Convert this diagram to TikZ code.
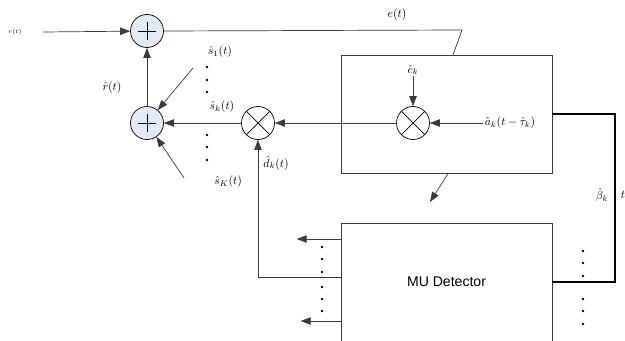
\documentclass[tikz,border=0pt]{standalone}
\usepackage{fontspec}
\setmainfont{Liberation Serif}
\setsansfont{Liberation Sans}
\usepackage{xcolor}
\definecolor{sumfill}{RGB}{226,234,245}
\definecolor{ln}{HTML}{3A3A3A}
\usetikzlibrary{positioning, arrows.meta}

\begin{document}
\begin{tikzpicture}[x=0.03cm, y=-0.03cm, every node/.style={font=\normalsize},
   blk/.style={draw=ln, line width=0.6pt, minimum width=6.33cm, minimum height=3.54cm, inner sep=0pt},
   sum/.style={circle, draw=black, fill=sumfill, line width=0.6pt, minimum size=0.99cm, inner sep=0pt,
     path picture={\draw[line width=0.6pt] ([xshift=-0.26cm]path picture bounding box.center) -- ([xshift=0.26cm]path picture bounding box.center)
       ([yshift=-0.26cm]path picture bounding box.center) -- ([yshift=0.26cm]path picture bounding box.center);}},
   mul/.style={circle, draw=black, fill=white, line width=0.6pt, minimum size=0.99cm, inner sep=0pt,
     path picture={\draw[line width=0.6pt] (path picture bounding box.north west) -- (path picture bounding box.south east)
       (path picture bounding box.north east) -- (path picture bounding box.south west);}},
   lbl/.style={inner sep=1pt},
   arr/.style={-{Triangle[length=3mm, width=2.2mm]}, draw=ln, line width=0.6pt},
   wire/.style={draw=ln, line width=0.6pt},
   bus/.style={draw=black, line width=2.4pt}]
  \useasboundingbox (0,0) rectangle (625,340);
  \clip (0,0) rectangle (625,340);
  % blocks
  \node[sum] (top) at (147,31) {};
  \node[sum] (add) at (147,123) {};
  \node[mul] (mulA) at (258,123) {};
  \node[blk] (up) at (446.5,114) {};
  \node[mul] (mulC) at (413,123) {};
  \node[blk] (mu) at (446.5,282) {\large\sffamily MU Detector};
  % labels
  \node[lbl, font=\tiny] (rt) at (15,32) {$r(t)$};
  \node[lbl] (et) at (397,15) {$e(t)$};
  \node[lbl] (rh) at (112,88) {$\hat{r}(t)$};
  \node[lbl] (s1) at (220,52) {$\hat{s}_1(t)$};
  \node[lbl] (sk) at (222,107) {$\hat{s}_k(t)$};
  \node[lbl] (sK) at (228,182) {$\hat{s}_K(t)$};
  \node[lbl] (dk) at (276,163) {$\hat{d}_k(t)$};
  \node[lbl] (ck) at (413,70) {$\hat{c}_k$};
  \node[lbl] (ak) at (510,123) {$\hat{a}_k(t-\hat{\tau}_k)$};
  \node[lbl] (bt) at (602,195) {$\hat{\beta}_k$};
  \node[lbl] (tt) at (623,195) {$t$};
  \coordinate (eTurn) at (462,30);
  \coordinate (eIn) at (453,55);
  \coordinate (s1in) at (193,68);
  \coordinate (sKin) at (184,178);
  \coordinate (fb) at (430,202);
  \coordinate (bk) at (615,114);
  % connectors
  \draw[arr] ([xshift=0.6cm]rt.east) -- (top);
  \draw[wire] (top.east) -- (eTurn) -- (eIn);
  \draw[arr] (add) -- (top);
  \draw[arr] (mulA) -- (add);
  \draw[arr] (mulC) -- (mulA);
  \draw[arr] (ak) -- (mulC);
  \draw[arr] (ck) -- (mulC);
  \draw[arr] (s1in) -- (add);
  \draw[arr] (sKin) -- (add);
  \draw[arr] ([yshift=0.15cm]mu.west) -| (mulA);
  \draw[arr] ([yshift=1.29cm]mu.west) -- ++(-44,0);
  \draw[arr] ([yshift=-1.17cm]mu.west) -- ++(-40,0);
  \draw[arr] ([xshift=0.05cm]up.south) -- (fb);
  \draw[bus] (up.east) -- (bk) |- (mu.east);
  % dots
  \foreach \y in {67,80,92,135,147,160} \fill (207,\y) circle[radius=1.1pt];
  \foreach \y in {247,259,272,287,299,311} \fill (322,\y) circle[radius=1.1pt];
  \foreach \y in {251,263,276,299,311,324} \fill (583,\y) circle[radius=1.1pt];
\end{tikzpicture}
\end{document}
